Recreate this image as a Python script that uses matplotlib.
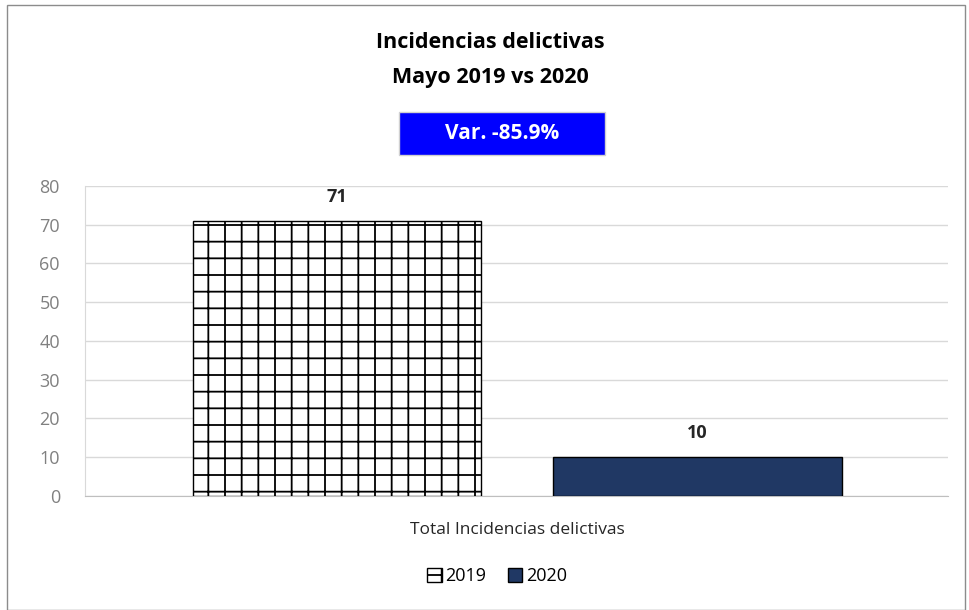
import matplotlib
matplotlib.use("Agg")
import matplotlib.pyplot as plt
from matplotlib.patches import Rectangle, Patch

plt.rcParams['font.family'] = ['Open Sans', 'DejaVu Sans']
plt.rcParams['hatch.linewidth'] = 1.3

category = "Total Incidencias delictivas"
series = ["2019", "2020"]
values = [71, 10]
yticks = [0, 10, 20, 30, 40, 50, 60, 70, 80]
title1 = "Incidencias delictivas"
title2 = "Mayo 2019 vs 2020"
var_text = "Var. -85.9%"

fig = plt.figure(figsize=(9.69, 6.10), dpi=100)
fig.patch.set_facecolor("white")
fig.patches.append(Rectangle((0.007, 0.0), 0.989, 0.992, transform=fig.transFigure,
                             fill=False, edgecolor="#8c8c8c", linewidth=1.0))

ax = fig.add_axes([0.0877, 0.1869, 0.8903, 0.5082])
offsets = [-0.5, 0.5]
b1 = ax.bar(offsets[0], values[0], width=0.8, facecolor="white", edgecolor="black",
            hatch="+", linewidth=1.0, zorder=3)
b2 = ax.bar(offsets[1], values[1], width=0.8, facecolor="#203864", edgecolor="black",
            linewidth=1.0, zorder=3)
for x, v in zip(offsets, values):
    ax.text(x, v + 6.2, str(v), ha="center", va="center", fontsize=13,
            fontweight="bold", color="#262626")

ax.set_xlim(-1.198, 1.193)
ax.set_ylim(0, 80)
ax.set_yticks(yticks)
ax.set_yticklabels([str(t) for t in yticks], fontsize=13, color="#808080")
ax.set_xticks([0])
ax.set_xticklabels([category], fontsize=12.5, color="#262626")
ax.tick_params(axis="both", length=0)
ax.tick_params(axis="y", pad=18)
ax.tick_params(axis="x", pad=19)
ax.grid(axis="y", color="#d9d9d9", linewidth=1.0, zorder=0)
for s in ["top", "right"]:
    ax.spines[s].set_visible(False)
ax.spines["left"].set_color("#d9d9d9")
ax.spines["bottom"].set_color("#bfbfbf")

fig.text(0.506, 1-43/610, title1, ha="center", va="center", fontsize=15.5,
         fontweight="bold", color="black")
fig.text(0.506, 1-77/610, title2, ha="center", va="center", fontsize=15.5,
         fontweight="bold", color="black")
fig.patches.append(Rectangle((399/969, 1-155/610), 206/969, 43/610, transform=fig.transFigure,
                             facecolor="#0000ff", edgecolor="#d0d0d0", linewidth=1.0))
fig.text(502/969, 1-133.5/610, var_text, ha="center", va="center", fontsize=15,
         fontweight="bold", color="white")

handles = [Patch(facecolor="white", edgecolor="black", hatch="+"),
           Patch(facecolor="#203864", edgecolor="black")]
fig.legend(handles, series, loc="center", bbox_to_anchor=(0.513, 1-576/610), ncol=2,
           frameon=False, fontsize=13, handlelength=0.8, handleheight=0.8,
           handletextpad=0.2, columnspacing=1.2)

fig.savefig("out.png", dpi=100)
